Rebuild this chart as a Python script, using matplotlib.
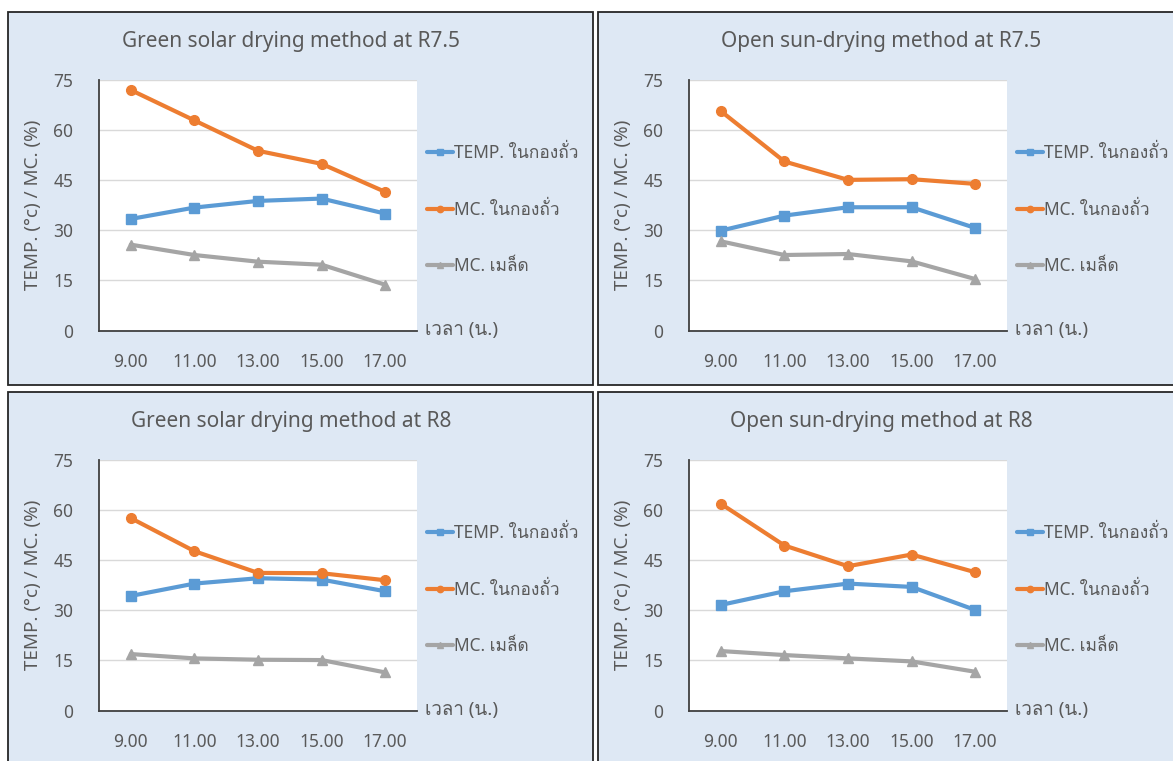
import matplotlib
matplotlib.use("Agg")
import matplotlib.pyplot as plt
from matplotlib import font_manager
from matplotlib.ft2font import FT2Font
from matplotlib.patches import Rectangle

# look for any installed family that can draw Thai
thai_family = None
for f in font_manager.fontManager.ttflist:
    try:
        if ord("ก") in FT2Font(f.fname).get_charmap():
            thai_family = f.name
            break
    except Exception:
        pass

families = ["Noto Sans"]
if thai_family:
    families.append(thai_family)
families.append("DejaVu Sans")
plt.rcParams["font.family"] = families

times = ["9.00", "11.00", "13.00", "15.00", "17.00"]
labels = ["TEMP. ในกองถั่ว", "MC. ในกองถั่ว", "MC. เมล็ด"]

temp_g75 = [33.4, 36.8, 38.8, 39.5, 35.0]
mcpile_g75 = [72.0, 62.9, 53.8, 49.9, 41.5]
mcseed_g75 = [25.7, 22.6, 20.6, 19.7, 13.7]

temp_o75 = [29.9, 34.4, 36.9, 36.9, 30.7]
mcpile_o75 = [65.7, 50.6, 45.1, 45.3, 43.9]
mcseed_o75 = [26.7, 22.6, 22.9, 20.7, 15.4]

temp_g8 = [34.3, 38.0, 39.6, 39.2, 35.7]
mcpile_g8 = [57.6, 47.7, 41.2, 41.1, 39.0]
mcseed_g8 = [16.9, 15.6, 15.2, 15.1, 11.4]

temp_o8 = [31.6, 35.7, 38.0, 37.0, 30.1]
mcpile_o8 = [61.9, 49.4, 43.2, 46.7, 41.4]
mcseed_o8 = [17.8, 16.6, 15.6, 14.7, 11.6]

titles = ["Green solar drying method at R7.5", "Open sun-drying method at R7.5",
          "Green solar drying method at R8", "Open sun-drying method at R8"]
series = [(temp_g75, mcpile_g75, mcseed_g75), (temp_o75, mcpile_o75, mcseed_o75),
          (temp_g8, mcpile_g8, mcseed_g8), (temp_o8, mcpile_o8, mcseed_o8)]

W, H = 1173, 761
fig = plt.figure(figsize=(W / 100, H / 100), dpi=100, facecolor="white")

txt = "#595959"
colors = ["#5B9BD5", "#ED7D31", "#A5A5A5"]
markers = ["s", "o", "^"]

# panel top-left corners in pixels
origins = [(8, 12), (598, 12), (8, 392), (598, 392)]

for (px, py), title, data in zip(origins, titles, series):
    fig.patches.append(Rectangle((px / W, 1 - (py + 373) / H), 585 / W, 373 / H,
                                 transform=fig.transFigure, facecolor="#DEE8F4",
                                 edgecolor="#262626", lw=1.3, zorder=-1))
    fig.text((px + 283) / W, 1 - (py + 30) / H, title, ha="center", va="center",
             fontsize=15, color=txt)

    ax = fig.add_axes([(px + 91) / W, 1 - (py + 318.5) / H, 318 / W, 250.5 / H])
    ax.set_zorder(1)
    ax.set_facecolor("white")
    x = range(len(times))
    for vals, c, m, lab in zip(data, colors, markers, labels):
        ax.plot(x, vals, color=c, marker=m, lw=3, markersize=7, label=lab,
                solid_capstyle="round", zorder=3)

    ax.set_xlim(-0.5, len(times) - 0.5)
    ax.set_ylim(0, 75)
    ax.set_yticks([0, 15, 30, 45, 60, 75])
    ax.set_xticks(list(x))
    ax.set_xticklabels(times)
    ax.grid(axis="y", color="#D9D9D9", lw=1)
    ax.set_axisbelow(True)
    for s in ["top", "right"]:
        ax.spines[s].set_visible(False)
    for s in ["left", "bottom"]:
        ax.spines[s].set_color("#404040")
        ax.spines[s].set_linewidth(1.3)
    ax.tick_params(axis="y", length=0, pad=18.5, labelsize=12.5, labelcolor=txt)
    ax.tick_params(axis="x", length=0, pad=16, labelsize=12.5, labelcolor=txt)
    ax.set_ylabel("TEMP. (°c) / MC. (%)", fontsize=13.5, color=txt, labelpad=8)
    ax.text(1.025, 0, "เวลา (น.)", transform=ax.transAxes, ha="left", va="center",
            fontsize=13.5, color=txt)
    ax.legend(loc="center left", bbox_to_anchor=(1.031, 0.483), frameon=False,
              fontsize=12.5, labelcolor=txt, handlelength=1.5, handletextpad=0.05,
              labelspacing=2.2, borderaxespad=0, borderpad=0, markerscale=0.65)

fig.savefig("out.png", dpi=100, facecolor="white")
